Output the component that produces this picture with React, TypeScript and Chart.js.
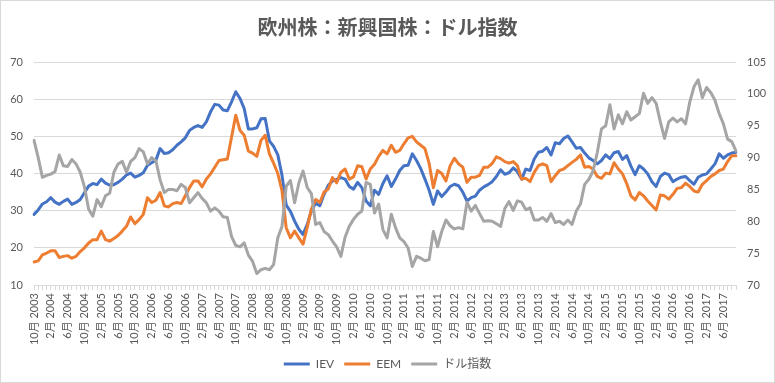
import React, { useEffect, useRef } from "react";
import { Chart, registerables } from "chart.js";

Chart.register(...registerables);

const TITLE = "欧州株：新興国株：ドル指数";
const SERIES_NAMES = ["IEV", "EEM", "ドル指数"];
const START_YEAR = 2003;
const START_MONTH = 10;

const iev: number[] = [
  29, 30.2, 31.8, 32.4, 33.5, 32.3, 31.7, 32.5, 33.1, 31.7, 32.2, 33, 34.8, 36.6, 37.3, 37, 38.5, 37.4, 36.9, 37,
  37.6, 38.5, 39.6, 40.1, 39, 39.5, 40.2, 42.2, 42.9, 43.6, 46.7, 45.4, 45.6, 46.4, 47.6, 48.5, 49.6, 51.6, 52.4, 52.9,
  52.4, 53.9, 56.6, 58.6, 58.4, 57.1, 56.9, 59.3, 62, 60.2, 57.5, 52, 52, 52.3, 54.7, 54.8, 48.8, 47.3, 45, 39.5,
  31.5, 29.8, 27.2, 25, 23.6, 26.3, 30, 32, 31.3, 34.4, 36.8, 38, 38.4, 38.9, 38.5, 36.5, 35.8, 37.6, 36.2, 32.6,
  31.3, 35.5, 34.4, 37.3, 39.4, 36.5, 38.5, 40.8, 42.1, 42.2, 45.3, 43.5, 41.3, 38.5, 35.5, 31.7, 35.3, 33.8, 35, 36.5,
  37.1, 36.7, 35, 32.6, 33.5, 33.9, 35.5, 36.4, 37, 37.8, 39.2, 41, 39.8, 40.2, 41.5, 40.5, 38.5, 41.2, 40.8, 43.9,
  45.7, 46, 47, 45, 48.3, 48, 49.4, 50.1, 48.5, 46.8, 47, 45.5, 44.2, 43.5, 42.6, 43.5, 45, 44, 45.6, 45.9,
  43.8, 44.8, 42, 39.7, 42.1, 41.2, 39.9, 37.8, 36.5, 39.2, 40.1, 39.7, 37.8, 38.5, 39, 39.2, 38.1, 37.1, 39, 39.6,
  39.9, 41.2, 42.6, 45.3, 44.1, 45, 45.5, 45.7,
];

const eem: number[] = [
  16.2, 16.5, 18.1, 18.6, 19.2, 19.2, 17.4, 17.7, 17.9, 17.2, 17.7, 19, 20, 21.3, 22.2, 22.2, 24.5, 22.2, 21.8, 22.5,
  23.3, 24.5, 25.8, 28.3, 26.5, 27.6, 29, 33.5, 32.2, 32.8, 34.9, 31.3, 31, 31.9, 32.2, 31.9, 34, 36.2, 38, 38,
  36.4, 38.5, 39.9, 41.7, 43.5, 43.7, 43.9, 49.8, 55.7, 51.6, 50.3, 46, 45.5, 44.6, 48.9, 50.3, 45.3, 42.8, 40, 35.3,
  25.4, 22.7, 24.5, 22.7, 21, 25.5, 30.5, 33, 32.2, 35, 35.8, 38.9, 37.5, 40.3, 41.2, 38.5, 39.1, 42.1, 41.8, 38.5,
  41.2, 42.5, 44.6, 46.2, 45.3, 47.6, 45.7, 46.2, 48, 49.6, 50, 48.5, 47.6, 46.7, 42.7, 36.2, 40.8, 40, 38, 42.1,
  44.1, 42.6, 41.7, 37.6, 39, 39, 39.5, 41.7, 41.7, 42.7, 44.5, 44, 43.2, 42.8, 43.2, 42.1, 38.5, 38.7, 37.8, 40.3,
  42.1, 42.6, 42.1, 37.8, 39.4, 40.8, 41.2, 42.1, 43, 43.8, 45, 41.7, 41.9, 41.2, 39.2, 38.7, 40.1, 39.9, 42.9, 41.2,
  39.9, 37.3, 34, 32.9, 34.9, 34, 32.6, 31.4, 30.2, 34.2, 34, 33.1, 34.4, 36, 36.2, 37.4, 36.5, 35.3, 35, 37.1,
  38.1, 39.2, 39.9, 40.8, 41.2, 43.2, 44.8, 44.8,
];

const dollarIndex: number[] = [
  92.7, 90, 86.9, 87.2, 87.4, 87.8, 90.4, 88.7, 88.6, 89.7, 89, 87.7, 85.4, 81.9, 80.8, 83.4, 82.3, 84, 84.4, 87.7,
  89, 89.4, 87.7, 89.4, 90, 91.4, 90.9, 89, 90, 89.5, 86.5, 84.5, 85, 85, 84.8, 85.8, 85.3, 82.9, 83.7, 84.5,
  83.6, 82.9, 81.6, 82.1, 81.6, 80.7, 80.6, 77.6, 76.2, 76, 76.6, 74.7, 73.7, 71.8, 72.4, 72.6, 72.4, 73.2, 77.4, 79.2,
  85.5, 86.4, 82.9, 86, 87.9, 85.3, 84.3, 79.5, 79.8, 78.4, 77.9, 76.9, 76, 74.5, 77.5, 79.2, 80.3, 81.1, 81.6, 86.1,
  85.8, 81.3, 82.7, 78.7, 77.4, 81.1, 79, 77.4, 76.8, 75.8, 72.9, 74.5, 74.2, 73.8, 74, 78.4, 76, 78.4, 80.2, 79.3,
  78.8, 79, 78.8, 83, 81.6, 82.5, 81.2, 80, 80.1, 80, 79.6, 79.2, 82, 83.1, 81.7, 83.2, 83, 81.8, 82.1, 80.2,
  80.2, 80.6, 80, 81.2, 79.8, 80, 79.5, 80.2, 79.5, 81.6, 82.7, 85.8, 86.6, 87.9, 90.8, 94.5, 95, 98.3, 94.5, 96.7,
  95.3, 97.2, 95.9, 96.4, 96.9, 100.1, 98.5, 99.4, 98.5, 95.6, 93, 95.6, 96.2, 95.6, 96.1, 95.3, 98.7, 101.1, 102.2, 99.4,
  101, 100.2, 99, 96.9, 95.3, 92.9, 92.5, 91,
];

const categories: string[] = iev.map((_, i) => {
  const m0 = START_MONTH - 1 + i;
  return `${(m0 % 12) + 1}月 ${START_YEAR + Math.floor(m0 / 12)}`;
});

const LEFT_MIN = 10;
const LEFT_MAX = 70;
const LEFT_STEP = 10;
const RIGHT_MIN = 70;
const RIGHT_MAX = 105;
const RIGHT_STEP = 5;
const LABEL_EVERY = 4;

const COLORS = ["#4472C4", "#ED7D31", "#A5A5A5"];
const TEXT = "#595959";
const GRID = "#D9D9D9";
const FONT = 'Lato, "Noto Sans CJK JP", sans-serif';

const borderPlugin = {
  id: "outerBorder",
  beforeDraw(chart: any) {
    const ctx = chart.ctx;
    ctx.save();
    ctx.fillStyle = "#FFFFFF";
    ctx.fillRect(0, 0, chart.width, chart.height);
    ctx.restore();
  },
  afterDraw(chart: any) {
    const ctx = chart.ctx;
    ctx.save();
    ctx.strokeStyle = GRID;
    ctx.lineWidth = 1;
    ctx.strokeRect(0.5, 0.5, chart.width - 1, chart.height - 1);
    ctx.restore();
  },
};

export default function App() {
  const ref = useRef<HTMLCanvasElement | null>(null);

  useEffect(() => {
    if (!ref.current) return;
    const chart = new Chart(ref.current, {
      type: "line",
      data: {
        labels: categories,
        datasets: [
          { label: SERIES_NAMES[0], data: iev, yAxisID: "y", borderColor: COLORS[0], backgroundColor: COLORS[0], order: 2 },
          { label: SERIES_NAMES[1], data: eem, yAxisID: "y", borderColor: COLORS[1], backgroundColor: COLORS[1], order: 1 },
          { label: SERIES_NAMES[2], data: dollarIndex, yAxisID: "y1", borderColor: COLORS[2], backgroundColor: COLORS[2], order: 0 },
        ].map((d) => ({
          ...d,
          borderWidth: 3,
          pointRadius: 0,
          pointHoverRadius: 0,
          tension: 0,
          fill: false,
          borderJoinStyle: "round" as const,
          borderCapStyle: "round" as const,
        })),
      },
      options: {
        responsive: false,
        animation: false,
        devicePixelRatio: 1,
        layout: { padding: { top: 0, left: 0, right: 0, bottom: 3 } },
        plugins: {
          title: {
            display: true,
            text: TITLE,
            color: TEXT,
            font: { family: '"Noto Sans CJK JP", sans-serif', size: 20, weight: "bold" },
            padding: { top: 15, bottom: 23 },
          },
          legend: {
            position: "bottom",
            labels: {
              color: TEXT,
              font: { family: FONT, size: 12 },
              usePointStyle: true,
              pointStyle: "line",
              pointStyleWidth: 26,
              padding: 10,
              sort: (a: any, b: any) => a.datasetIndex - b.datasetIndex,
            },
          },
          tooltip: { enabled: false },
        },
        scales: {
          x: {
            type: "category",
            offset: false,
            grid: { display: true, drawOnChartArea: false, drawTicks: true, tickLength: 5, color: GRID },
            border: { display: true, color: GRID },
            ticks: {
              autoSkip: false,
              maxRotation: 90,
              minRotation: 90,
              padding: 3,
              color: TEXT,
              font: { family: FONT, size: 11 },
              callback: (_v: any, i: number) => (i % LABEL_EVERY === 0 ? categories[i] : ""),
            },
            afterFit: (s: any) => {
              s.height = 63;
            },
          },
          y: {
            type: "linear",
            position: "left",
            min: LEFT_MIN,
            max: LEFT_MAX,
            ticks: { stepSize: LEFT_STEP, color: TEXT, font: { family: FONT, size: 11 }, padding: 11 },
            grid: { color: GRID, drawTicks: false },
            border: { display: false },
            afterFit: (s: any) => {
              s.width = 34;
            },
          },
          y1: {
            type: "linear",
            position: "right",
            min: RIGHT_MIN,
            max: RIGHT_MAX,
            ticks: { stepSize: RIGHT_STEP, color: TEXT, font: { family: FONT, size: 11 }, padding: 11 },
            grid: { display: false, drawOnChartArea: false, drawTicks: false },
            border: { display: false },
            afterFit: (s: any) => {
              s.width = 39;
            },
          },
        },
      },
      plugins: [borderPlugin],
    });
    return () => chart.destroy();
  }, []);

  return (
    <div style={{ position: "fixed", left: 0, top: 0, width: 775, height: 383, background: "#fff" }}>
      <canvas ref={ref} width={775} height={383} style={{ display: "block", width: 775, height: 383 }} />
    </div>
  );
}
